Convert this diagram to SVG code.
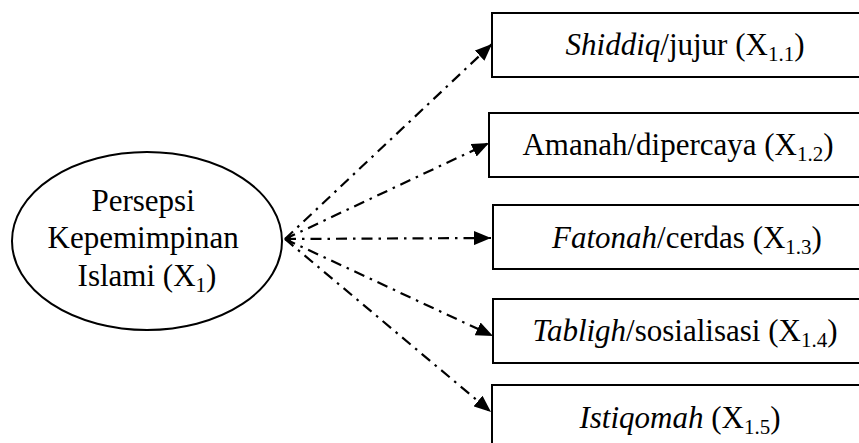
<svg xmlns="http://www.w3.org/2000/svg" width="859" height="443" viewBox="0 0 859 443">
  <style>
    .shape { fill: #ffffff; stroke: #000000; stroke-width: 2; }
    .label { font-family: "Liberation Serif", "Times New Roman", serif; font-size: 31px; fill: #000000; }
    .sub { font-size: 21px; }
    .it { font-style: italic; }
    .link { fill: none; stroke: #000000; stroke-width: 2.2; stroke-dasharray: 11 6 2.5 6; }
  </style>
  <defs>
    <marker id="head" markerUnits="userSpaceOnUse" markerWidth="18" markerHeight="14" refX="17" refY="7" orient="auto">
      <path d="M0,0 L17,7 L0,14 Z" fill="#000000"/>
    </marker>
    <marker id="tail" markerUnits="userSpaceOnUse" markerWidth="10" markerHeight="10" refX="1" refY="5" orient="auto">
      <path d="M9,0 L1,5 L9,10 L6,5 Z" fill="#000000"/>
    </marker>
  </defs>

  <g id="connectors">
    <line class="link" x1="285" y1="239" x2="492" y2="44" marker-end="url(#head)"/>
    <line class="link" x1="285" y1="239" x2="489" y2="143" marker-end="url(#head)"/>
    <line class="link" x1="285" y1="239" x2="491" y2="238" marker-end="url(#head)" marker-start="url(#tail)"/>
    <line class="link" x1="285" y1="239" x2="493" y2="336" marker-end="url(#head)"/>
    <line class="link" x1="285" y1="239" x2="491" y2="412" marker-end="url(#head)"/>
  </g>

  <g id="persepsi">
    <ellipse class="shape" cx="147" cy="241" rx="135" ry="89"/>
    <text class="label" text-anchor="middle">
      <tspan x="147" y="211">Persepsi</tspan>
      <tspan x="147" y="248">Kepemimpinan</tspan>
      <tspan x="147" y="286">Islami (X<tspan class="sub" dy="6">1</tspan><tspan dy="-6">)</tspan></tspan>
    </text>
  </g>

  <g id="shiddiq">
    <rect class="shape" x="492" y="13" width="380" height="64"/>
    <text class="label" x="685" y="55" text-anchor="middle"><tspan class="it">Shiddiq</tspan>/jujur (X<tspan class="sub" dy="6">1.1</tspan><tspan dy="-6">)</tspan></text>
  </g>

  <g id="amanah">
    <rect class="shape" x="489" y="113" width="380" height="64"/>
    <text class="label" x="678" y="155" text-anchor="middle">Amanah/dipercaya (X<tspan class="sub" dy="6">1.2</tspan><tspan dy="-6">)</tspan></text>
  </g>

  <g id="fatonah">
    <rect class="shape" x="493" y="205" width="380" height="64"/>
    <text class="label" x="687" y="248" text-anchor="middle"><tspan class="it">Fatonah</tspan>/cerdas (X<tspan class="sub" dy="6">1.3</tspan><tspan dy="-6">)</tspan></text>
  </g>

  <g id="tabligh">
    <rect class="shape" x="493" y="299" width="380" height="64"/>
    <text class="label" x="685" y="341" text-anchor="middle"><tspan class="it">Tabligh</tspan>/sosialisasi (X<tspan class="sub" dy="6">1.4</tspan><tspan dy="-6">)</tspan></text>
  </g>

  <g id="istiqomah">
    <rect class="shape" x="492" y="385" width="380" height="64"/>
    <text class="label" x="680" y="428" text-anchor="middle"><tspan class="it">Istiqomah</tspan> (X<tspan class="sub" dy="6">1.5</tspan><tspan dy="-6">)</tspan></text>
  </g>
</svg>
